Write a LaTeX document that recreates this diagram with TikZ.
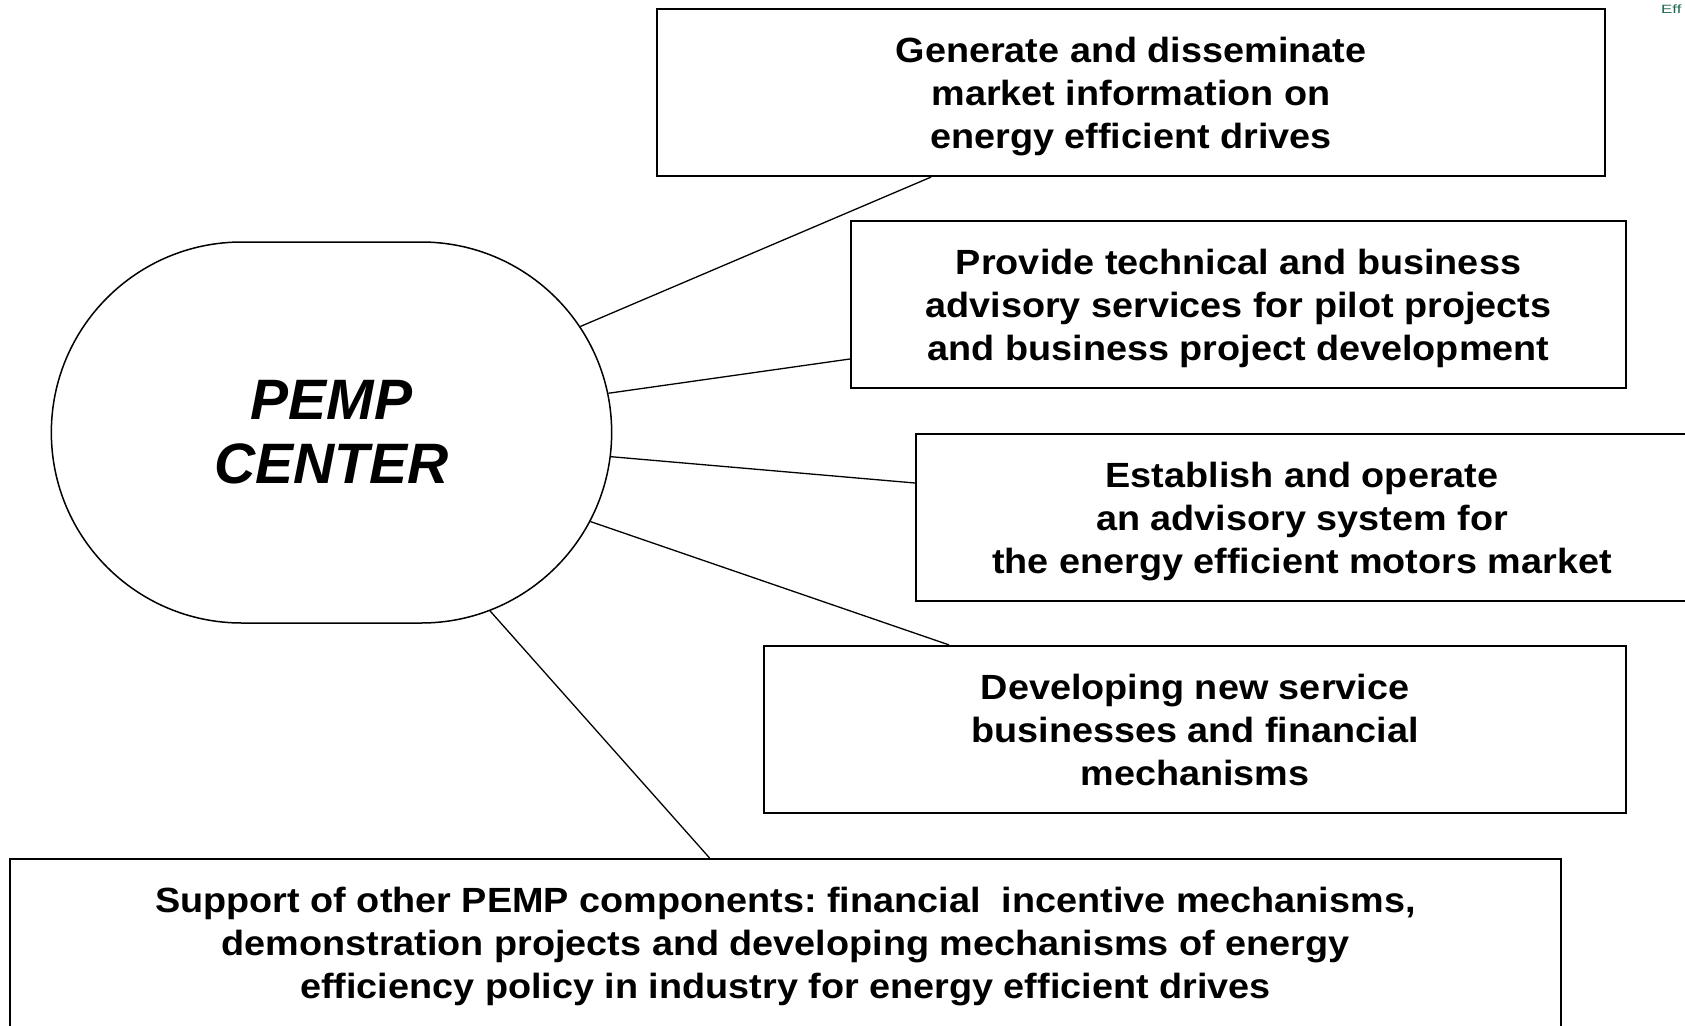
\documentclass[tikz,border=0pt]{standalone}
\usepackage{fontspec}
\setmainfont{Liberation Sans}
\newfontfamily\boxfont[FakeStretch=1.08]{Liberation Sans}
\newfontfamily\effont[FakeStretch=1.4]{Liberation Sans}
\usetikzlibrary{shapes}
\frenchspacing

\begin{document}
\begin{tikzpicture}[x=1pt,y=-1pt]
		\tikzstyle{block} = [rectangle,draw=black,line width=2.2pt,minimum height=167pt,inner sep=0pt,text depth=0pt,align=center,font=\boxfont\fontsize{35}{43}\selectfont\bfseries]
		\tikzstyle{link} = [line width=1.3pt]
		\definecolor{cornergreen}{RGB}{30,105,75}

		\clip (0,0) rectangle (1685,1025);
		\fill[white] (0,0) rectangle (1685,1025);

		\node[rounded rectangle,draw=black,line width=1.5pt,minimum width=567pt,minimum height=381pt,align=center,font=\fontsize{57}{64}\selectfont\bfseries\itshape] (pemp) at (331.5,432.5) {PEMP\\CENTER};

		\node[block,minimum width=948pt] (b1) at (1131,92.5) {Generate and disseminate\\market information on\\energy efficient drives};
		\node[block,minimum width=775pt] (b2) at (1238.5,304.5) {Provide technical and business\\advisory services for pilot projects\\and business project development};
		\node[block,minimum width=772pt] (b3) at (1302,517.5) {Establish and operate\\an advisory system for\\the energy efficient motors market};
		\node[block,minimum width=862pt] (b4) at (1195,729.5) {Developing new service\\businesses and financial\\mechanisms};
		\node[block,minimum width=1551pt,minimum height=168pt] (b5) at (785.5,943) {Support of other PEMP components: financial\ \ incentive mechanisms,\\demonstration projects and developing mechanisms of energy\\efficiency policy in industry for energy efficient drives};

		\node[anchor=west,inner sep=0pt,text=cornergreen,font=\effont\fontsize{12}{14}\selectfont] (eff) at (1661,9) {Eff};

		\draw[link] (pemp) -- ([xshift=-200pt]b1.south);
		\draw[link] (pemp) -- ([yshift=-54.5pt]b2.west);
		\draw[link] (pemp) -- ([yshift=34.5pt]b3.west);
		\draw[link] (pemp) -- ([xshift=-246pt]b4.north);
		\draw[link] (pemp) -- ([xshift=-76pt]b5.north);
	\end{tikzpicture}
\end{document}
